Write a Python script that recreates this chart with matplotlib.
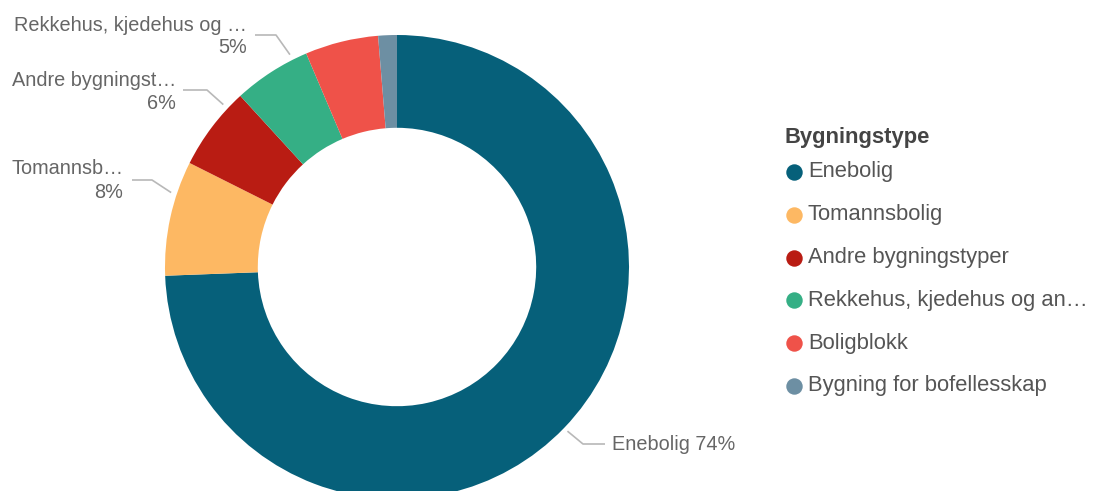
import numpy as np
import matplotlib
matplotlib.use("Agg")
import matplotlib.pyplot as plt

plt.rcParams['font.family'] = ['Liberation Sans', 'DejaVu Sans']

categories = ["Enebolig", "Tomannsbolig", "Andre bygningstyper",
              "Rekkehus, kjedehus og andre småhus", "Boligblokk",
              "Bygning for bofellesskap"]
legend_labels = ["Enebolig", "Tomannsbolig", "Andre bygningstyper",
                 "Rekkehus, kjedehus og an…", "Boligblokk",
                 "Bygning for bofellesskap"]
values = [74.4, 8.0, 5.8, 5.4, 5.1, 1.3]
short_labels = ["Enebolig", "Tomannsb…", "Andre bygningst…",
                "Rekkehus, kjedehus og …", None, None]
colors = ["#06607A", "#FDB863", "#B91C13", "#35AF85", "#EF5249", "#6D8FA3"]
legend_title = "Bygningstype"

W, H = 1094, 491
fig = plt.figure(figsize=(W / 100, H / 100), dpi=100)
cx, cy, R = 397, 267, 232
ax = fig.add_axes([(cx - R) / W, (H - cy - R) / H, 2 * R / W, 2 * R / H])
wedges, _ = ax.pie(values, colors=colors, startangle=90, counterclock=False,
                   radius=1.0, wedgeprops=dict(width=0.40, linewidth=0))
ax.set_xlim(-1, 1)
ax.set_ylim(-1, 1)
ax.set_aspect('equal')
ax.axis('off')

# overlay in pixel coords for labels / legend
ov = fig.add_axes([0, 0, 1, 1])
ov.set_xlim(0, W)
ov.set_ylim(H, 0)
ov.axis('off')

txt_col = "#666666"
line_col = "#B8B8B8"
fs = 14.3

def wedge_point(w, r=1.02, shift=0.0):
    ang = np.deg2rad((w.theta1 + w.theta2) / 2 + shift)
    return cx + R * r * np.cos(ang), cy - R * r * np.sin(ang)

total = sum(values)
# Enebolig label (right side)
px, py = wedge_point(wedges[0])
ov.plot([px, 583, 605], [py, 444, 444], color=line_col, lw=1.2, solid_capstyle='butt')
ov.text(612, 444, f"{short_labels[0]} {round(values[0] / total * 100):.0f}%",
        color=txt_col, fontsize=fs, va='center', ha='left')

# left side labels: (index, elbow x start, elbow x end, elbow y, text right x, text y1, text y2)
layout = [
    (1, 132, 152, 180, 123, 168, 192),
    (2, 183, 207, 90, 176, 80, 103),
    (3, 255, 276, 35, 247, 25, 47),
]
for idx, x0, x1, ly, tx, ty1, ty2 in layout:
    px, py = wedge_point(wedges[idx], r=1.025, shift=-6)
    ov.plot([x0, x1, px], [ly, ly, py], color=line_col, lw=1.2, solid_capstyle='butt')
    ov.text(tx, ty1, short_labels[idx], color=txt_col, fontsize=fs, va='center', ha='right')
    ov.text(tx, ty2, f"{round(values[idx] / total * 100):.0f}%", color=txt_col,
            fontsize=fs, va='center', ha='right')

# legend
ov.text(785, 137, legend_title, color="#444444", fontsize=15.8, fontweight='bold',
        va='center', ha='left')
y0, dy = 172, 42.8
for i, (lab, c) in enumerate(zip(legend_labels, colors)):
    y = y0 + i * dy
    ov.scatter([794], [y], s=140, color=c, linewidths=0, zorder=3)
    ov.text(808, y, lab, color="#555555", fontsize=15.8, va='center', ha='left')

fig.savefig("out.png", dpi=100)
